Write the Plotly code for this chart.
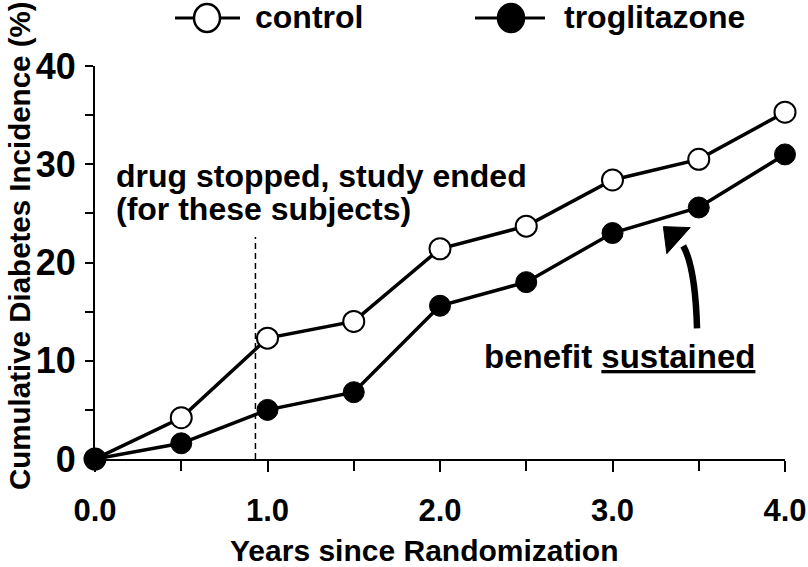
import plotly.graph_objects as go

years = [0.0, 0.5, 1.0, 1.5, 2.0, 2.5, 3.0, 3.5, 4.0]
control = [0.0, 4.2, 12.3, 14.0, 21.4, 23.7, 28.4, 30.5, 35.3]
troglitazone = [0.0, 1.6, 5.0, 6.8, 15.6, 18.0, 23.0, 25.6, 31.0]
x_tickvals = [0.0, 1.0, 2.0, 3.0, 4.0]
x_ticktext = ["0.0", "1.0", "2.0", "3.0", "4.0"]
y_tickvals = [0, 10, 20, 30, 40]
drug_stop_year = 0.93

FONT = "Liberation Sans, Arial, sans-serif"
NARROW = "Liberation Sans Narrow, Arial Narrow, Liberation Sans, Arial, sans-serif"
BOLD = dict(family=FONT, color="black", weight="bold")
NBOLD = dict(family=NARROW, color="black", weight="bold")

# plot area geometry (pixels) used to place the hand-drawn legend and texts
L, T, W, H = 95, 66, 690, 393


def px(xp):
    return (xp - L) / W


def py(yp):
    return (T + H - yp) / H


fig = go.Figure()
fig.add_trace(go.Scatter(
    x=years, y=control, mode="lines+markers", name="control",
    line=dict(color="black", width=3.5),
    marker=dict(symbol="circle", size=21, color="white", line=dict(color="black", width=2)),
    cliponaxis=False, showlegend=False,
))
fig.add_trace(go.Scatter(
    x=years, y=troglitazone, mode="lines+markers", name="troglitazone",
    line=dict(color="black", width=3.5),
    marker=dict(symbol="circle", size=21, color="black", line=dict(color="black", width=1)),
    cliponaxis=False, showlegend=False,
))

# legend (drawn by hand to match the original's symbols)
legend_items = [
    ("control", "white", 175, 240, 207, 253),
    ("troglitazone", "black", 475, 545, 511, 562),
]
for label, fill, lx0, lx1, cx, tx in legend_items:
    fig.add_shape(type="line", xref="paper", yref="paper", x0=px(lx0), x1=px(lx1), y0=py(18), y1=py(18),
                  line=dict(color="black", width=3))
    fig.add_shape(type="circle", xref="paper", yref="paper", xsizemode="pixel", ysizemode="pixel",
                  xanchor=px(cx), yanchor=py(18), x0=-13, x1=13, y0=-14, y1=14,
                  fillcolor=fill, line=dict(color="black", width=2.5))
    fig.add_annotation(x=px(tx), y=py(17), xref="paper", yref="paper", text=label,
                       showarrow=False, xanchor="left", yanchor="middle",
                       font=dict(size=32, **BOLD))

# dashed vertical line where drug stopped
fig.add_shape(type="line", xref="x", yref="y", x0=drug_stop_year, x1=drug_stop_year, y0=0, y1=22.6,
              line=dict(color="black", width=1.5, dash="6px,4px"))

# curved arrow (shaft + head)
fig.add_shape(type="path", xref="x", yref="y",
              path="M 3.49 13.3 Q 3.48 19.5 3.41 21.7",
              line=dict(color="black", width=6.5))
fig.add_shape(type="path", xref="x", yref="y",
              path="M 3.295 23.65 L 3.315 20.9 L 3.45 23.55 Z",
              fillcolor="black", line=dict(color="black", width=1))

for txt, ypix in [("drug stopped, study ended", 176), ("(for these subjects)", 209)]:
    fig.add_annotation(x=px(114), y=py(ypix), xref="paper", yref="paper", text=txt,
                       showarrow=False, xanchor="left", yanchor="middle", align="left",
                       font=dict(size=32, **BOLD))

fig.add_annotation(x=3.04, y=10.4, xref="x", yref="y", text="benefit <u>sustained</u>",
                   showarrow=False, xanchor="center", yanchor="middle",
                   font=dict(size=33, **BOLD))

fig.add_annotation(x=px(19), y=py(246), xref="paper", yref="paper",
                   text="Cumulative Diabetes Incidence (%)", textangle=-90,
                   showarrow=False, xanchor="center", yanchor="middle",
                   font=dict(size=29.5, **BOLD))

fig.add_annotation(x=px(424), y=py(550), xref="paper", yref="paper",
                   text="Years since Randomization",
                   showarrow=False, xanchor="center", yanchor="middle",
                   font=dict(size=30, **BOLD))

fig.update_layout(
    width=808, height=567,
    margin=dict(l=95, r=23, t=66, b=108, autoexpand=False),
    paper_bgcolor="white", plot_bgcolor="white",
    font=dict(family=FONT, color="black"),
    showlegend=False,
    xaxis=dict(range=[0, 4], showgrid=False, zeroline=False, showline=True, automargin=False,
               linecolor="black", linewidth=2, ticks="outside", ticklen=11, tickwidth=2,
               tickcolor="black", tickvals=x_tickvals, ticktext=x_ticktext,
               tickfont=dict(size=31, **NBOLD), ticklabelstandoff=12,
               minor=dict(ticks="outside", dtick=0.5, ticklen=10, tickwidth=2, tickcolor="black")),
    yaxis=dict(range=[0, 40], showgrid=False, zeroline=False, showline=True, automargin=False,
               linecolor="black", linewidth=2, ticks="outside", ticklen=8, tickwidth=2,
               tickcolor="black", tickvals=y_tickvals,
               tickfont=dict(size=36, **NBOLD),
               minor=dict(ticks="outside", dtick=5, ticklen=8, tickwidth=1.5, tickcolor="black"),
               ticklabelstandoff=2),
)

fig.write_html("out.html", config={"displayModeBar": False},
               post_script="document.body.style.margin='0';")
